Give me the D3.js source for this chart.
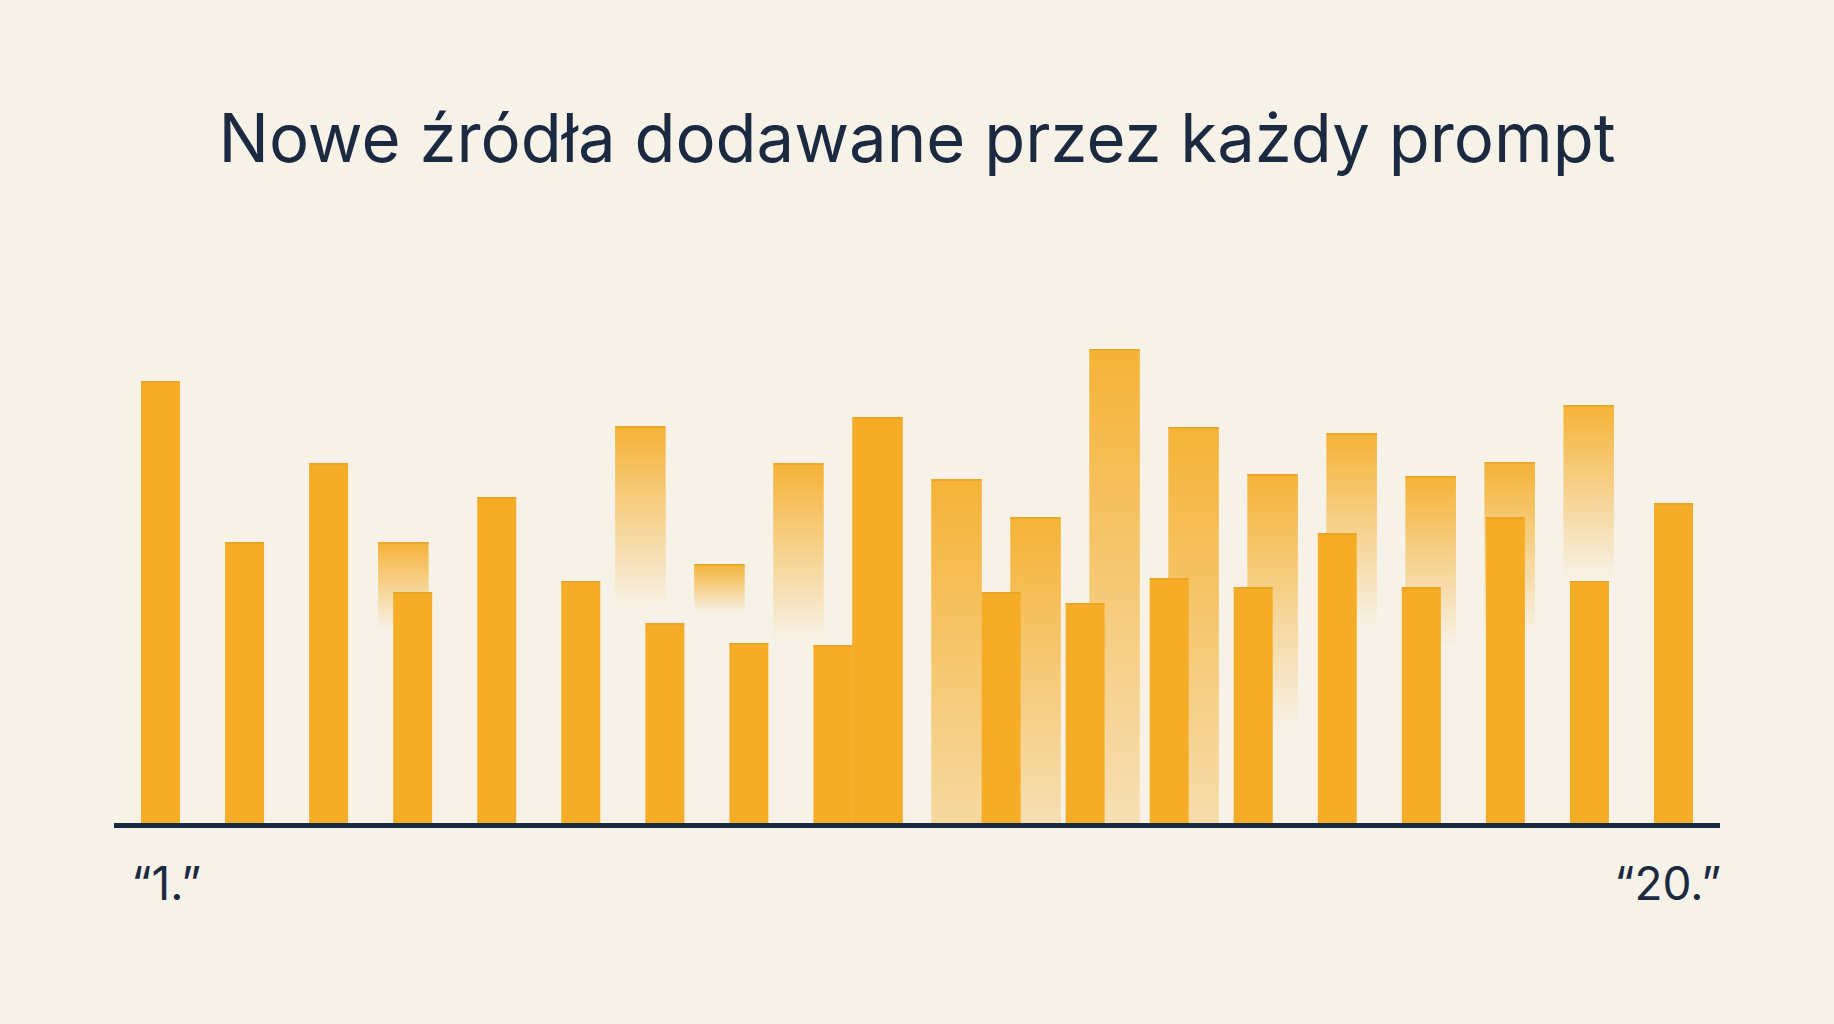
<!DOCTYPE html>
<html>
<head>
<meta charset="utf-8">
<script src="https://cdn.jsdelivr.net/npm/d3@7"></script>
<style>
  body { margin: 0; background: #f7f2e8; }
  svg { display: block; }
</style>
</head>
<body>
<div id="visualization"></div>
<script>
const width = 1834
const height = 1024
const margin = { top: 320, right: 114, bottom: 201, left: 114 }

const title = 'Nowe źródła dodawane przez każdy prompt'

/* prompts 1..20, only the first and last are labelled */
const prompts = d3.range(1, 21).map(d => d + '.')
const axisLabels = ['1.', '20.']

/* solid front bars: new sources (19 bars, the 10th slot is empty) */
const newSources = [44.2, 28.1, 36.0, 23.1, 32.6, 24.2, 20.0, 18.0, 17.8, null,
    23.1, 22.0, 24.5, 23.6, 29.0, 23.6, 30.6, 24.2, 32.0]

/* back bars per prompt: top value and the value where the bar has faded out
   (null = no fade, negative = still visible at the baseline) */
const backTop = [null, null, null, 28.1, null, null, 39.7, 25.9, 36.0, 40.6,
    34.4, 30.6, 47.4, 39.6, 34.9, 39.0, 34.7, 36.1, 41.8, null]
const backFadeTo = [null, null, null, 19.3, null, null, 21.3, 21.0, 18.0, null,
    -23, -13, -20, -21, 9.3, 19.3, 17.6, 18.6, 24.3, null]

const amber = '#f5ad27'
const ink = '#1b2a41'

/* scales */
const inset = 27
const xBack = d3.scaleBand()
    .domain(prompts)
    .range([margin.left + inset, width - margin.right - inset])
    .paddingInner(0.36)
    .paddingOuter(0)

const xNew = d3.scaleBand()
    .domain(d3.range(newSources.length))
    .range([margin.left + inset, width - margin.right - inset])
    .paddingInner(0.536)
    .paddingOuter(0)

const y = d3.scaleLinear()
    .domain([0, 50])
    .range([height - margin.bottom, height - margin.bottom - 500])

/* DOM */
const svg = d3.select('#visualization').append('svg')
    .attr('width', width)
    .attr('height', height)

svg.append('rect')
    .attr('width', width)
    .attr('height', height)
    .attr('fill', '#f7f2e8')

svg.append('text')
    .attr('x', width / 2)
    .attr('y', 162)
    .attr('text-anchor', 'middle')
    .attr('font-family', 'Inter, Lato, sans-serif')
    .attr('font-size', 67)
    .attr('fill', ink)
    .text(title)

const back = prompts
    .map((p, i) => ({ p, i, top: backTop[i], fadeTo: backFadeTo[i] }))
    .filter(d => d.top != null)

/* one vertical gradient per fading bar */
const topOpacity = 0.92
const defs = svg.append('defs')
const grads = defs.selectAll('linearGradient')
    .data(back.filter(d => d.fadeTo != null))
    .join('linearGradient')
    .attr('id', d => 'fade-' + d.i)
    .attr('x1', 0).attr('x2', 0)
    .attr('y1', 0).attr('y2', 1)

grads.append('stop')
    .attr('offset', 0)
    .attr('stop-color', amber)
    .attr('stop-opacity', topOpacity)

grads.append('stop')
    .attr('offset', 1)
    .attr('stop-color', amber)
    .attr('stop-opacity', d => d.fadeTo < 0 ? topOpacity * (-d.fadeTo) / (d.top - d.fadeTo) : 0)

const chart = svg.append('g')

chart.append('g')
    .attr('class', 'back')
    .selectAll('rect')
    .data(back)
    .join('rect')
    .attr('x', d => xBack(d.p))
    .attr('width', xBack.bandwidth())
    .attr('y', d => y(d.top))
    .attr('height', d => y(d.fadeTo == null ? 0 : Math.max(d.fadeTo, 0)) - y(d.top))
    .attr('fill', d => d.fadeTo == null ? amber : `url(#fade-${d.i})`)

chart.append('g')
    .attr('class', 'back-edge')
    .selectAll('rect')
    .data(back)
    .join('rect')
    .attr('x', d => xBack(d.p))
    .attr('width', xBack.bandwidth())
    .attr('y', d => y(d.top))
    .attr('height', 2)
    .attr('fill', '#e39c1c')
    .attr('opacity', 0.45)

const front = newSources
    .map((v, i) => ({ i, v }))
    .filter(d => d.v != null)

chart.append('g')
    .attr('class', 'front')
    .selectAll('rect')
    .data(front)
    .join('rect')
    .attr('x', d => xNew(d.i))
    .attr('width', xNew.bandwidth())
    .attr('y', d => y(d.v))
    .attr('height', d => y(0) - y(d.v))
    .attr('fill', amber)

chart.append('g')
    .attr('class', 'front-edge')
    .selectAll('rect')
    .data(front)
    .join('rect')
    .attr('x', d => xNew(d.i))
    .attr('width', xNew.bandwidth())
    .attr('y', d => y(d.v))
    .attr('height', 2)
    .attr('fill', '#e39c1c')
    .attr('opacity', 0.45)

/* baseline */
svg.append('line')
    .attr('x1', margin.left)
    .attr('x2', width - margin.right)
    .attr('y1', y(0) + 2.5)
    .attr('y2', y(0) + 2.5)
    .attr('stroke', ink)
    .attr('stroke-width', 5)

/* first and last prompt labels */
const axis = svg.append('g')
    .attr('transform', `translate(0,${y(0)})`)
    .call(d3.axisBottom(xBack)
        .tickValues(axisLabels)
        .tickSize(0)
        .tickPadding(44)
        .tickFormat(d => `\u201C${d}\u201D`))

axis.select('.domain').remove()
axis.selectAll('text')
    .attr('font-family', 'Inter, Lato, sans-serif')
    .attr('font-size', 46)
    .attr('fill', ink)
</script>
</body>
</html>
